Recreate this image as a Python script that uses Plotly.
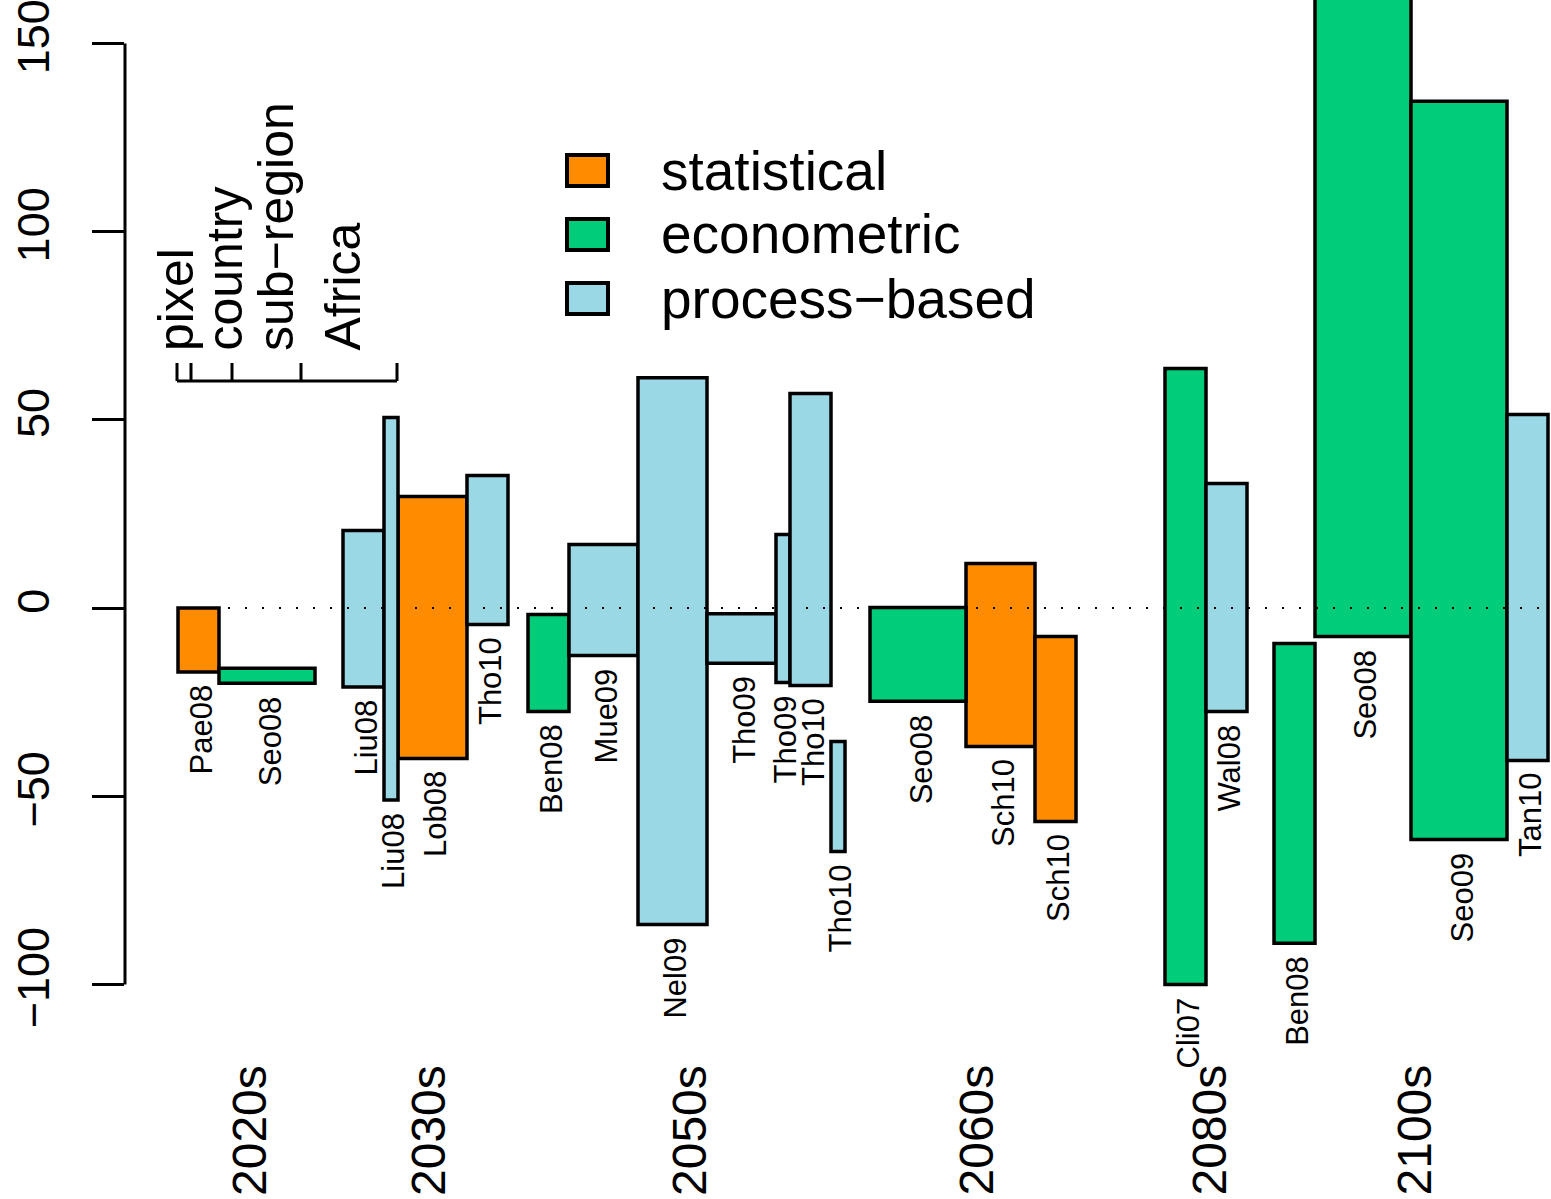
import plotly.graph_objects as go

# ---------------- data ----------------
decades = ["2020s", "2030s", "2050s", "2060s", "2080s", "2100s"]

study = ["Pae08", "Seo08",
         "Liu08", "Liu08", "Lob08", "Tho10",
         "Ben08", "Mue09", "Nel09", "Tho09", "Tho09", "Tho10", "Tho10",
         "Seo08", "Sch10", "Sch10",
         "Cli07", "Wal08",
         "Ben08", "Seo08", "Seo09", "Tan10"]
decade = ["2020s", "2020s",
          "2030s", "2030s", "2030s", "2030s",
          "2050s", "2050s", "2050s", "2050s", "2050s", "2050s", "2050s",
          "2060s", "2060s", "2060s",
          "2080s", "2080s",
          "2100s", "2100s", "2100s", "2100s"]
method = ["statistical", "econometric",
          "process-based", "process-based", "statistical", "process-based",
          "econometric", "process-based", "process-based", "process-based", "process-based", "process-based", "process-based",
          "econometric", "statistical", "statistical",
          "econometric", "process-based",
          "econometric", "econometric", "econometric", "process-based"]
scale = ["country", "Africa",
         "country", "pixel", "sub-region", "country",
         "country", "sub-region", "sub-region", "sub-region", "pixel", "country", "pixel",
         "Africa", "sub-region", "country",
         "country", "country",
         "country", "Africa", "Africa", "country"]
low = [-17, -20,
       -21, -51, -40, -4.4,
       -27.5, -12.6, -84.1, -14.7, -19.8, -20.6, -64.7,
       -24.8, -36.8, -56.7,
       -100, -27.5,
       -89.1, -7.6, -61.5, -40.5]
high = [0, -16,
        20.6, 50.6, 29.6, 35.2,
        -1.7, 16.9, 61.2, -1.5, 19.5, 57, -35.5,
        0.1, 11.8, -7.6,
        63.6, 33.1,
        -9.4, 175, 134.6, 51.4]

methods = ["statistical", "econometric", "process-based"]
method_labels = ["statistical", "econometric", "process\u2212based"]
scales = ["pixel", "country", "sub-region", "Africa"]
scale_labels = ["pixel", "country", "sub\u2212region", "Africa"]
y_ticks = [-100, -50, 0, 50, 100, 150]

# ---------------- styles / layout ----------------
W, H = 1551, 1199
ML = 125
COLORS = {"statistical": "#FF8C00", "econometric": "#00CC7A", "process-based": "#9BD8E6"}
SCALE_WIDTH = {"pixel": 14, "country": 41, "sub-region": 69, "Africa": 96}
GROUP_GAPS = [53, 28, 20, 25, 89, 27]
FONT = "Liberation Sans, Arial, Helvetica, sans-serif"
PX_PER_UNIT = 3.764
ZERO_PX = 608
y_top = ZERO_PX / PX_PER_UNIT
y_bot = -(H - ZERO_PX) / PX_PER_UNIT


def px2x(px):
    return px - ML


def py2paper(py):
    return 1 - py / H


# compute bar positions from scale widths and group layout
n = len(study)
centers = [0.0] * n
widths = [0.0] * n
group_center = {}
pos = 0.0
for gi, d in enumerate(decades):
    pos += GROUP_GAPS[gi]
    start = pos
    for i in range(n):
        if decade[i] == d:
            w = SCALE_WIDTH[scale[i]]
            centers[i] = pos + w / 2
            widths[i] = w
            pos += w
    group_center[d] = (start + pos) / 2

fig = go.Figure()
for m in methods:
    idx = [i for i in range(n) if method[i] == m]
    fig.add_trace(go.Bar(
        x=[centers[i] for i in idx],
        y=[high[i] - low[i] for i in idx],
        base=[low[i] for i in idx],
        width=[widths[i] for i in idx],
        marker=dict(color=COLORS[m], line=dict(color="black", width=3.5)),
        name=m, showlegend=False, hoverinfo="skip",
    ))

shapes = []
annotations = []

# y axis line (R style, only over tick range)
shapes.append(dict(type="line", xref="paper", yref="y", x0=0, x1=0,
                   y0=min(y_ticks), y1=max(y_ticks), line=dict(color="black", width=3)))

# dotted zero line
shapes.append(dict(type="line", xref="x", yref="y", x0=px2x(228), x1=px2x(1545), y0=0, y1=0,
                   line=dict(color="black", width=2, dash="2px,15px"), layer="above"))

# study labels under bars
for i in range(n):
    annotations.append(dict(x=centers[i], y=low[i], xref="x", yref="y", text=study[i],
                            textangle=-90, showarrow=False, xanchor="center", yanchor="top",
                            yshift=-11, xshift=3, font=dict(size=31, color="black", family=FONT)))

# decade labels
for d in decades:
    annotations.append(dict(x=group_center[d], y=0, xref="x", yref="paper", text=d,
                            textangle=-90, showarrow=False, xanchor="center", yanchor="bottom",
                            yshift=1, xshift=3, font=dict(size=48, color="black", family=FONT)))

# method legend
leg_rows = [170.5, 234.5, 298.5]
for m, lab, cy in zip(methods, method_labels, leg_rows):
    shapes.append(dict(type="rect", xref="x", yref="paper",
                       x0=px2x(567), x1=px2x(608), y0=py2paper(cy - 15.5), y1=py2paper(cy + 15.5),
                       fillcolor=COLORS[m], line=dict(color="black", width=4), layer="above"))
    annotations.append(dict(x=px2x(659), y=py2paper(cy), xref="x", yref="paper", text=lab,
                            showarrow=False, xanchor="left", yanchor="middle",
                            font=dict(size=55, color="black", family=FONT)))

# spatial scale legend
bar_y = py2paper(381)
tick_top = py2paper(363)
x0 = px2x(177)
cum = x0
tick_xs = [x0]
for s in scales:
    cum += SCALE_WIDTH[s]
    tick_xs.append(cum)
shapes.append(dict(type="line", xref="x", yref="paper", x0=tick_xs[0], x1=tick_xs[-1],
                   y0=bar_y, y1=bar_y, line=dict(color="black", width=3)))
for tx in tick_xs:
    shapes.append(dict(type="line", xref="x", yref="paper", x0=tx, x1=tx,
                       y0=bar_y, y1=tick_top, line=dict(color="black", width=3)))
scale_label_px = [175.5, 224.5, 275.5, 342.5]
for lab, lx in zip(scale_labels, scale_label_px):
    annotations.append(dict(x=px2x(lx), y=py2paper(353), xref="x", yref="paper", text=lab,
                            textangle=-90, showarrow=False, xanchor="center", yanchor="bottom",
                            font=dict(size=50, color="black", family=FONT)))

fig.update_layout(
    width=W, height=H,
    margin=dict(l=ML, r=0, t=0, b=0, pad=0),
    paper_bgcolor="white", plot_bgcolor="white",
    barmode="overlay",
    bargap=0,
    hovermode=False,
    xaxis=dict(range=[0, W - ML], visible=False, showgrid=False, zeroline=False),
    yaxis=dict(range=[y_bot, y_top], showgrid=False, zeroline=False, showline=False,
               tickmode="array", tickvals=y_ticks, ticks="outside", ticklen=32, tickwidth=3,
               tickcolor="black", tickangle=-90, ticklabelstandoff=25,
               ticklabeloverflow="allow",
               tickfont=dict(size=45, color="black", family=FONT)),
    shapes=shapes, annotations=annotations,
    font=dict(family=FONT, color="black"),
)

fig.write_html("out.html", config={"displayModeBar": False, "staticPlot": True},
               post_script="document.body.style.margin='0';document.body.style.overflow='hidden';")
